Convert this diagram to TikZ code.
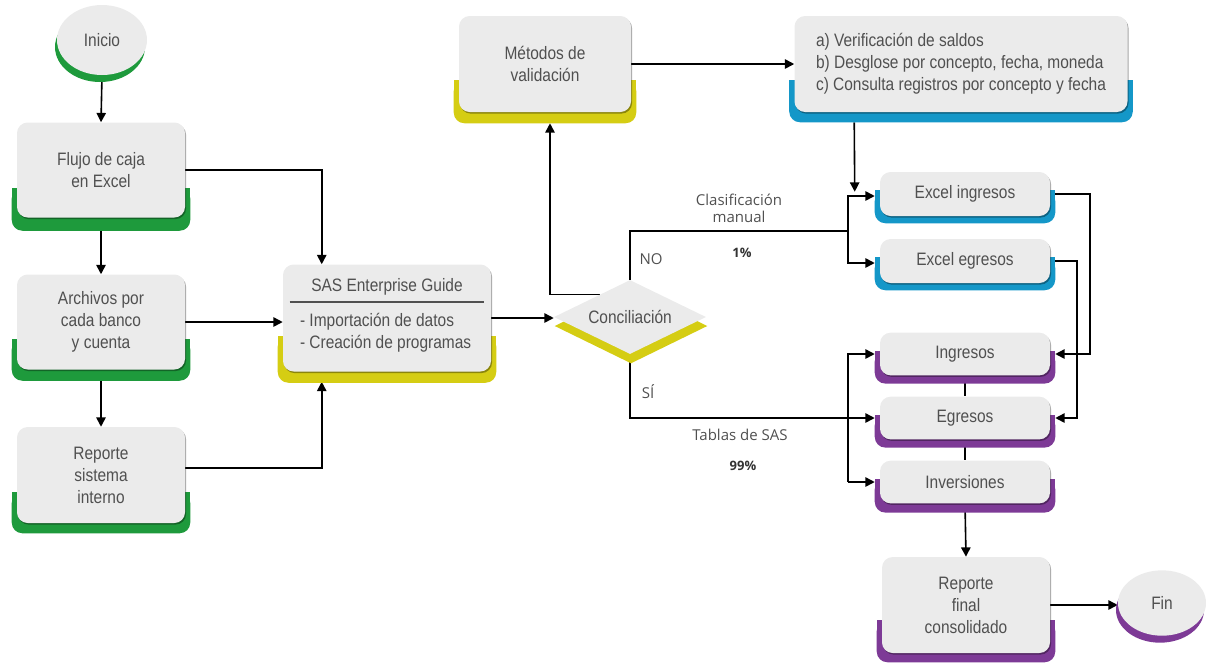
\documentclass[tikz,border=0pt]{standalone}
\usepackage{fontspec}
\setmainfont[FakeStretch=0.86]{Liberation Sans}
\newfontfamily\labfont{Open Sans}
\usetikzlibrary{shapes.geometric,arrows.meta,calc,shadows}
\definecolor{boxgray}{HTML}{EBEBEB}
\definecolor{txtgray}{HTML}{505050}
\definecolor{cgreen}{HTML}{1E9A3C}
\definecolor{cyellow}{HTML}{D5CD13}
\definecolor{cblue}{HTML}{1497C8}
\definecolor{cpurple}{HTML}{7D3A96}
\pgfdeclarelayer{conn}\pgfdeclarelayer{tabs}\pgfsetlayers{conn,tabs,main}
\newcommand\mytab[4]{%
 \fill[#2,rounded corners=8pt] ($(#1.south west)+(-5,-#3)$) rectangle ($(#1.south east)+(5,#4)$);
 \fill[#2] ($(#1.south west)+(-5,-#3)$) rectangle ($(#1.south east)+(5,-#3+14)$);}
\begin{document}
\begin{tikzpicture}[x=0.75pt,y=-0.75pt,
 mainfont/.style={font=\fontsize{13.5}{16.5}\selectfont},
 box/.style={rectangle, rounded corners=8pt, fill=boxgray, text=txtgray, align=center, inner sep=0pt, mainfont,
   drop shadow={shadow xshift=0.8pt, shadow yshift=-1.2pt, opacity=0.35, fill=black}},
 bigbox/.style={box, minimum width=126pt, minimum height=71.25pt},
 smallbox/.style={box, minimum width=127.5pt, minimum height=32pt},
 oval/.style={ellipse, fill=boxgray, text=txtgray, inner sep=0pt, mainfont},
 dia/.style={diamond, aspect=2, fill=boxgray, text=txtgray, inner sep=0pt, minimum width=114pt, minimum height=55.5pt, mainfont},
 txt/.style={text=txtgray, inner sep=0pt, mainfont},
 lab/.style={text=txtgray, inner sep=0pt, font=\labfont\fontsize{11.25}{12.75}\selectfont},
 pct/.style={text=black!80, inner sep=0pt, font=\labfont\bfseries\fontsize{9.75}{12}\selectfont},
 ln/.style={draw=black, line width=1.2pt},
 arr/.style={ln, -{Triangle[length=7pt,width=7pt]}}
]
\useasboundingbox (0,0) rectangle (1206,662);

% nodes
\node[oval, minimum width=67.5pt, minimum height=52.5pt] (ini) at (102,40) {Inicio};
\node[bigbox] (flujo) at (101,170) {Flujo de caja\\en Excel};
\node[bigbox] (arch) at (101,322) {Archivos por\\cada banco\\y cuenta};
\node[bigbox, minimum height=72pt] (rep) at (101,475) {Reporte\\sistema\\interno};
\node[box, minimum width=156pt, minimum height=80.25pt] (sas) at (387,318) {};
\node[txt] (sastitle) at ($(sas.north)+(0,23)$) {SAS Enterprise Guide};
\node[txt, anchor=west, align=left] (sasitems) at ($(sas.north west)+(17,68)$) {- Importación de datos\\- Creación de programas};
\draw[txtgray, line width=1.2pt] ($(sas.north west)+(7,38)$) -- ($(sas.north east)+(-7,38)$);
\node[box, minimum width=129pt, minimum height=72pt] (met) at (545,64) {Métodos de\\validación};
\node[box, minimum width=249.75pt, minimum height=72pt, align=left] (ver) at (961,64) {a) Verificación de saldos\\b) Desglose por concepto, fecha, moneda\\c) Consulta registros por concepto y fecha};
\node[dia] (conc) at (630,317) {Conciliación};
\node[smallbox, minimum height=33pt] (exi) at (965,194) {Excel ingresos};
\node[smallbox, minimum height=33pt] (exe) at (965,261) {Excel egresos};
\node[smallbox] (ing) at (965,354) {Ingresos};
\node[smallbox] (egr) at (965,418) {Egresos};
\node[smallbox] (inv) at (965,482) {Inversiones};
\node[bigbox, minimum height=72pt] (repf) at (966,605) {Reporte\\final\\consolidado};
\node[oval, minimum width=66pt, minimum height=49pt] (fin) at (1162,603) {Fin};

% labels
\node[lab] (lno) at (651,259) {NO};
\node[lab] (lsi) at (648,392) {SÍ};
\node[lab, align=center] (lcm) at (739,208) {Clasificación\\manual};
\node[pct] (p1) at (742,253) {1\%};
\node[lab] (lts) at (740,435) {Tablas de SAS};
\node[pct] (p99) at (743,466) {99\%};

% colored tabs
\begin{pgfonlayer}{tabs}
\fill[cgreen] ($(ini)+(-2,7)$) ellipse [x radius=33.75pt, y radius=26.25pt];
\fill[cpurple] ($(fin)+(-2,7)$) ellipse [x radius=33pt, y radius=24.5pt];
\mytab{flujo}{cgreen}{30}{13}
\mytab{arch}{cgreen}{31}{11}
\mytab{rep}{cgreen}{31}{10}
\mytab{sas}{cyellow}{36}{11}
\mytab{met}{cyellow}{32}{11}
\mytab{ver}{cblue}{32}{10}
\mytab{exi}{cblue}{26}{7}
\mytab{exe}{cblue}{26}{7}
\mytab{ing}{cpurple}{25}{8}
\mytab{egr}{cpurple}{25}{8}
\mytab{inv}{cpurple}{25}{9}
\mytab{repf}{cpurple}{33}{9}
\fill[cyellow] ($(conc.west)+(1,9)$) -- ($(conc.north)+(1,9)$) -- ($(conc.east)+(1,9)$) -- ($(conc.south)+(1,9)$) -- cycle;
\end{pgfonlayer}

% connectors
\begin{pgfonlayer}{conn}
\draw[arr] (ini.south) -- (flujo.north);
\draw[arr] (flujo.south) -- (arch.north);
\draw[arr] (arch.south) -- (rep.north);
\draw[arr] (flujo.east) -| ($(sas.north west)+(39,0)$);
\draw[arr] (arch.east) -- (arch.east -| sas.west);
\draw[arr] ($(rep.east)+(0,-7)$) -| ($(sas.south west)+(39,10)$);
\draw[arr] (sas.east) -- (sas.east -| conc.west);
\draw[arr] ($(conc.west)!0.6!(conc.north)$) -| ($(met.south)+(5,11)$);
\draw[arr] (met.east) -- (ver.west);
\draw[arr] ($(ver.south west)+(60,10)$) -- ($(exi.north west)+(-25,20)$);
\coordinate (br) at (848,231);
\draw[ln] (conc.north) |- (br);
\draw[arr] (br) |- ($(exi.west)+(-5,2)$);
\draw[arr] (br) |- ($(exe.west)+(-5,2)$);
\draw[arr] (conc.south) |- ($(egr.west)+(-5,0)$);
\coordinate (lv) at ($(inv.west)+(-32,0)$);
\draw[arr] (lv) |- ($(ing.west)+(-5,0)$);
\draw[arr] (lv) -- ($(inv.west)+(-5,0)$);
\draw[arr] (exi.east) -- ++(40,0) |- ($(ing.east)+(5,0)$);
\draw[arr] (exe.east) -- ++(27,0) |- ($(egr.east)+(5,0)$);
\draw[ln] (ing.south) -- (egr.north);
\draw[ln] (egr.south) -- (inv.north);
\draw[arr] (inv.south) -- (repf.north);
\draw[arr] (repf.east) -- (repf.east -| fin.west);
\end{pgfonlayer}
\end{tikzpicture}
\end{document}
